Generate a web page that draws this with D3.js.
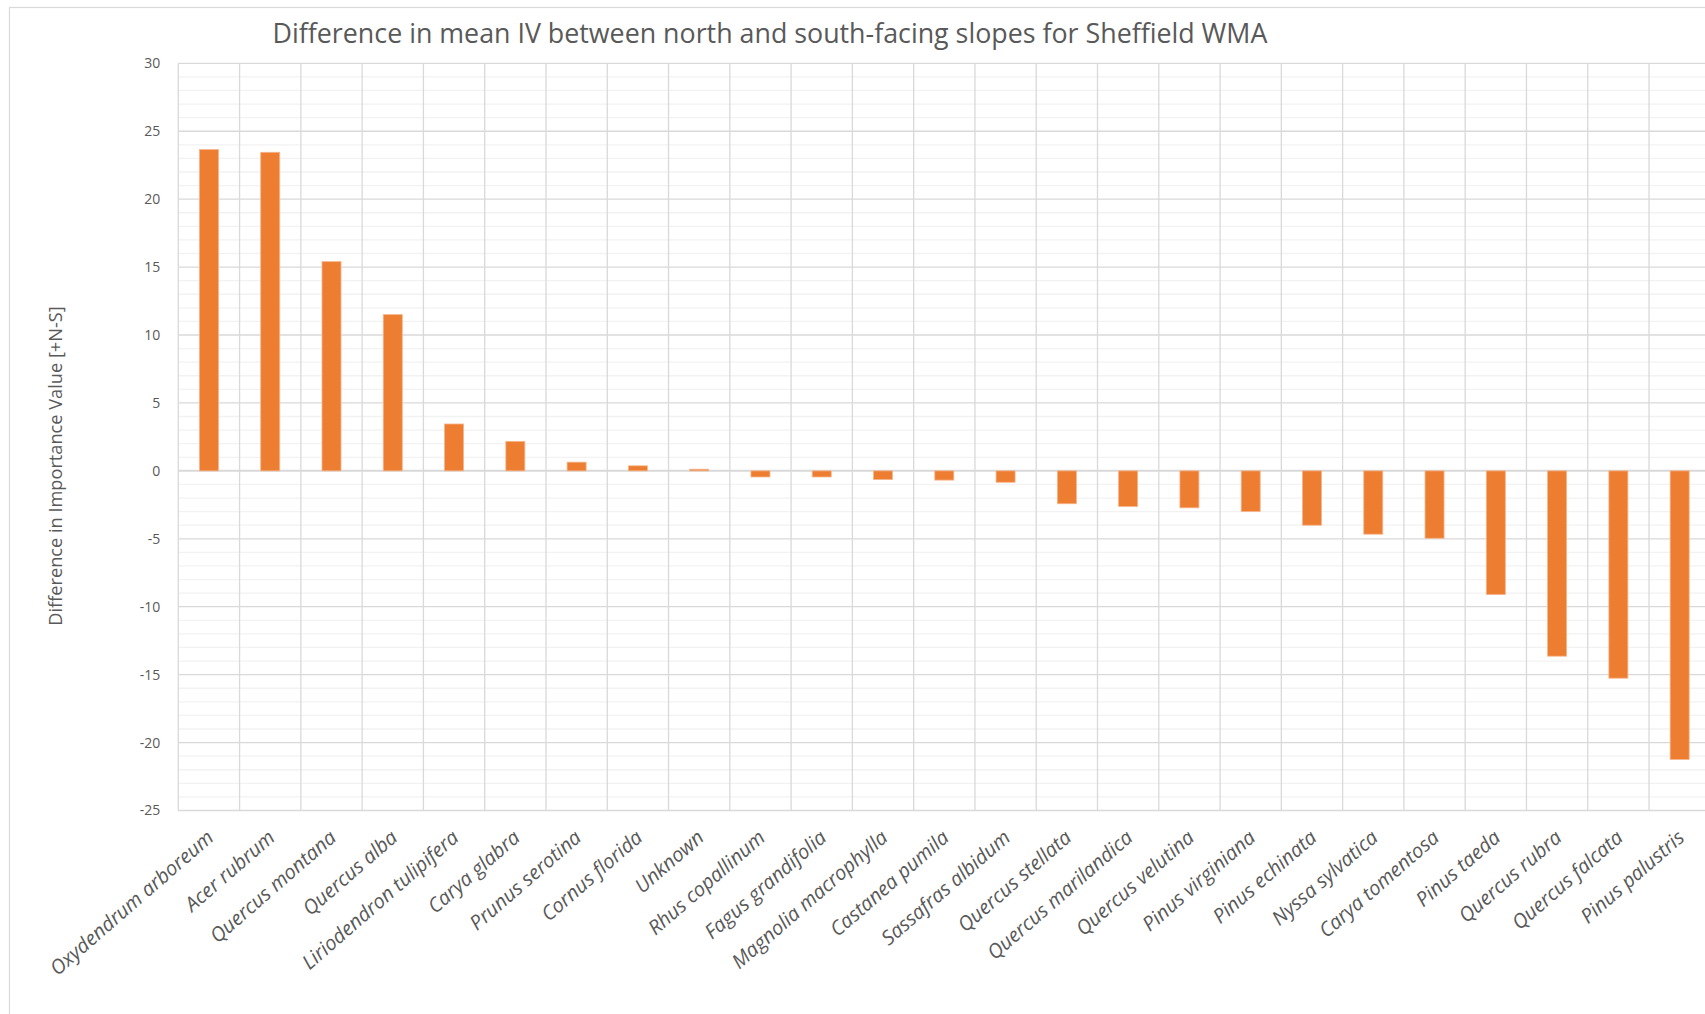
<!DOCTYPE html>
<html>
<head>
<meta charset="utf-8">
<script src="https://cdn.jsdelivr.net/npm/d3@7"></script>
<style>
  html, body { margin: 0; padding: 0; background: #ffffff; }
  svg { display: block; }
  text { font-family: "Open Sans", "Noto Sans", sans-serif; fill: #595959; }
</style>
</head>
<body>
<svg id="chart" width="1705" height="1014"></svg>
<script>
// Species, in the order they are plotted
const species = [
  "Oxydendrum arboreum", "Acer rubrum", "Quercus montana", "Quercus alba",
  "Liriodendron tulipifera", "Carya glabra", "Prunus serotina", "Cornus florida",
  "Unknown", "Rhus copallinum", "Fagus grandifolia", "Magnolia macrophylla",
  "Castanea pumila", "Sassafras albidum", "Quercus stellata", "Quercus marilandica",
  "Quercus velutina", "Pinus virginiana", "Pinus echinata", "Nyssa sylvatica",
  "Carya tomentosa", "Pinus taeda", "Quercus rubra", "Quercus falcata",
  "Pinus palustris"
];

// Mean importance value, north minus south
const ivDifference = [
  23.65, 23.45, 15.4, 11.5,
  3.45, 2.17, 0.64, 0.37,
  0.12, -0.45, -0.45, -0.64,
  -0.68, -0.84, -2.42, -2.62,
  -2.72, -2.99, -4.0, -4.66,
  -4.96, -9.1, -13.64, -15.26,
  -21.24
];

const yTicks = [-25, -20, -15, -10, -5, 0, 5, 10, 15, 20, 25, 30];
const yMinorTicks = d3.range(-25, 31, 1);

const titleText = "Difference in mean IV between north and south-facing slopes for Sheffield WMA";
const yTitleText = "Difference in Importance Value [+N-S]";

const data = species.map((s, i) => ({ name: s, value: ivDifference[i] }));

const svg = d3.select("#chart");
const plot = { left: 178.3, right: 1710.3, top: 63.3, bottom: 810.5 };

// chart frame
svg.append("rect")
  .attr("x", 9.5).attr("y", 7.5)
  .attr("width", 1800).attr("height", 1100)
  .attr("fill", "none").attr("stroke", "#d9d9d9").attr("stroke-width", 1.2);

const x = d3.scaleBand().domain(species).range([plot.left, plot.right]).padding(0);
const y = d3.scaleLinear().domain([-25, 30]).range([plot.bottom, plot.top]);

const grid = svg.append("g");

// minor horizontal gridlines
grid.selectAll("line.minor")
  .data(yMinorTicks.filter(v => v % 5 !== 0))
  .join("line")
  .attr("class", "minor")
  .attr("x1", plot.left).attr("x2", plot.right)
  .attr("y1", d => y(d)).attr("y2", d => y(d))
  .attr("stroke", "#f2f2f2").attr("stroke-width", 1.3);

// vertical category gridlines
grid.selectAll("line.vert")
  .data(d3.range(species.length + 1))
  .join("line")
  .attr("class", "vert")
  .attr("x1", i => plot.left + i * x.step()).attr("x2", i => plot.left + i * x.step())
  .attr("y1", plot.top).attr("y2", plot.bottom)
  .attr("stroke", "#d9d9d9").attr("stroke-width", 1.3);

// major horizontal gridlines
grid.selectAll("line.major")
  .data(yTicks)
  .join("line")
  .attr("class", "major")
  .attr("x1", plot.left).attr("x2", plot.right)
  .attr("y1", d => y(d)).attr("y2", d => y(d))
  .attr("stroke", "#d9d9d9").attr("stroke-width", d => d === 0 ? 2 : 1.3);

// y axis labels (plain hyphen for negatives)
const yAxis = d3.axisLeft(y)
  .tickValues(yTicks)
  .tickFormat(d => String(d))
  .tickSize(0)
  .tickPadding(18);
const yAxisG = svg.append("g")
  .attr("transform", `translate(${plot.left},0)`)
  .call(yAxis);
yAxisG.select(".domain").remove();
yAxisG.selectAll("text")
  .attr("font-size", 14)
  .attr("font-family", null)
  .attr("fill", "#595959");

// bars
const barW = x.bandwidth() * 0.31;
svg.append("g").selectAll("rect")
  .data(data)
  .join("rect")
  .attr("x", d => x(d.name) + (x.bandwidth() - barW) / 2)
  .attr("width", barW)
  .attr("y", d => y(Math.max(0, d.value)))
  .attr("height", d => Math.abs(y(d.value) - y(0)))
  .attr("fill", "#ed7d31")
  .attr("stroke", "#f6b48a")
  .attr("stroke-width", 0.8);

// category labels, rotated
const xAxis = d3.axisBottom(x).tickSize(0).tickPadding(0);
const xAxisG = svg.append("g")
  .attr("transform", `translate(0,${plot.bottom})`)
  .call(xAxis);
xAxisG.select(".domain").remove();
xAxisG.selectAll(".tick text")
  .attr("font-family", null)
  .attr("font-size", 20)
  .attr("font-style", "italic")
  .attr("fill", "#595959")
  .attr("text-anchor", "end")
  .attr("dy", null)
  .attr("y", 0)
  .attr("transform", "translate(6,29) rotate(-41)");

// title
svg.append("text")
  .attr("x", 770).attr("y", 43)
  .attr("text-anchor", "middle")
  .attr("font-size", 26.8)
  .text(titleText);

// y axis title
svg.append("text")
  .attr("transform", `translate(62,466) rotate(-90)`)
  .attr("text-anchor", "middle")
  .attr("font-size", 18.2)
  .text(yTitleText);
</script>
</body>
</html>
